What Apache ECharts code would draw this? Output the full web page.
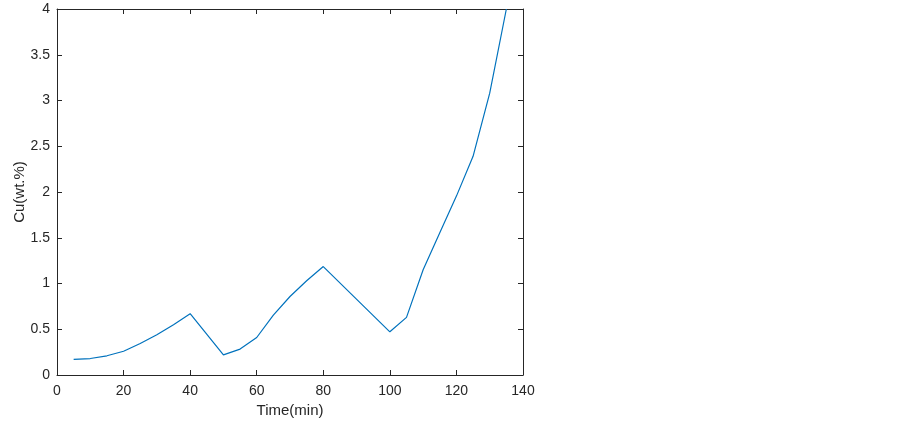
<!DOCTYPE html>
<html><head><meta charset="utf-8">
<script src="https://cdn.jsdelivr.net/npm/echarts@6/dist/echarts.min.js"></script>
<style>html,body{margin:0;padding:0;background:#fff}#c{width:903px;height:426px}</style>
</head><body><div id="c"></div>
<script>
const timeMin = [5, 10, 15, 20, 25, 30, 35, 40, 50, 55, 60, 65, 70, 75, 80, 100, 105, 110, 115, 120, 125, 130, 135];
const cuWt = [0.17, 0.18, 0.21, 0.26, 0.345, 0.44, 0.55, 0.67, 0.22, 0.283, 0.41, 0.654, 0.858, 1.03, 1.185, 0.472, 0.63, 1.15, 1.555, 1.955, 2.39, 3.08, 4.0];
const xTitle = 'Time(min)';
const yTitle = 'Cu(wt.%)';

const axisCol = '#262626';
const font = 'Liberation Sans, Arial, sans-serif';
const chart = echarts.init(document.getElementById('c'));
const baseX = {type:'value', min:0, max:140, interval:20,
  axisLine:{show:true, onZero:false, lineStyle:{color:axisCol, width:1}},
  axisTick:{show:true, inside:true, length:5, lineStyle:{color:axisCol}},
  splitLine:{show:false}};
const baseY = {type:'value', min:0, max:4, interval:0.5,
  axisLine:{show:true, onZero:false, lineStyle:{color:axisCol, width:1}},
  axisTick:{show:true, inside:true, length:5, lineStyle:{color:axisCol}},
  splitLine:{show:false}};
chart.setOption({
  animation:false,
  grid:{left:57, top:9, right:380, bottom:51, containLabel:false},
  xAxis:[
    Object.assign({}, baseX, {position:'bottom', name:xTitle, nameLocation:'middle', nameGap:28,
      nameTextStyle:{color:axisCol, fontSize:15, fontFamily:font},
      axisLabel:{color:axisCol, fontSize:14, fontFamily:font, margin:9}}),
    Object.assign({}, baseX, {position:'top', axisLabel:{show:false}})
  ],
  yAxis:[
    Object.assign({}, baseY, {position:'left', name:yTitle, nameLocation:'middle', nameGap:30,
      nameMoveOverlap:false,
      nameTextStyle:{color:axisCol, fontSize:15, fontFamily:font},
      axisLabel:{color:axisCol, fontSize:14, fontFamily:font, margin:7}}),
    Object.assign({}, baseY, {position:'right', axisLabel:{show:false}})
  ],
  series:[{type:'line', data:timeMin.map((t,i)=>[t, cuWt[i]]), showSymbol:false, symbol:'none',
    lineStyle:{color:'#0072BD', width:1.2}, clip:true}]
});
</script></body></html>
